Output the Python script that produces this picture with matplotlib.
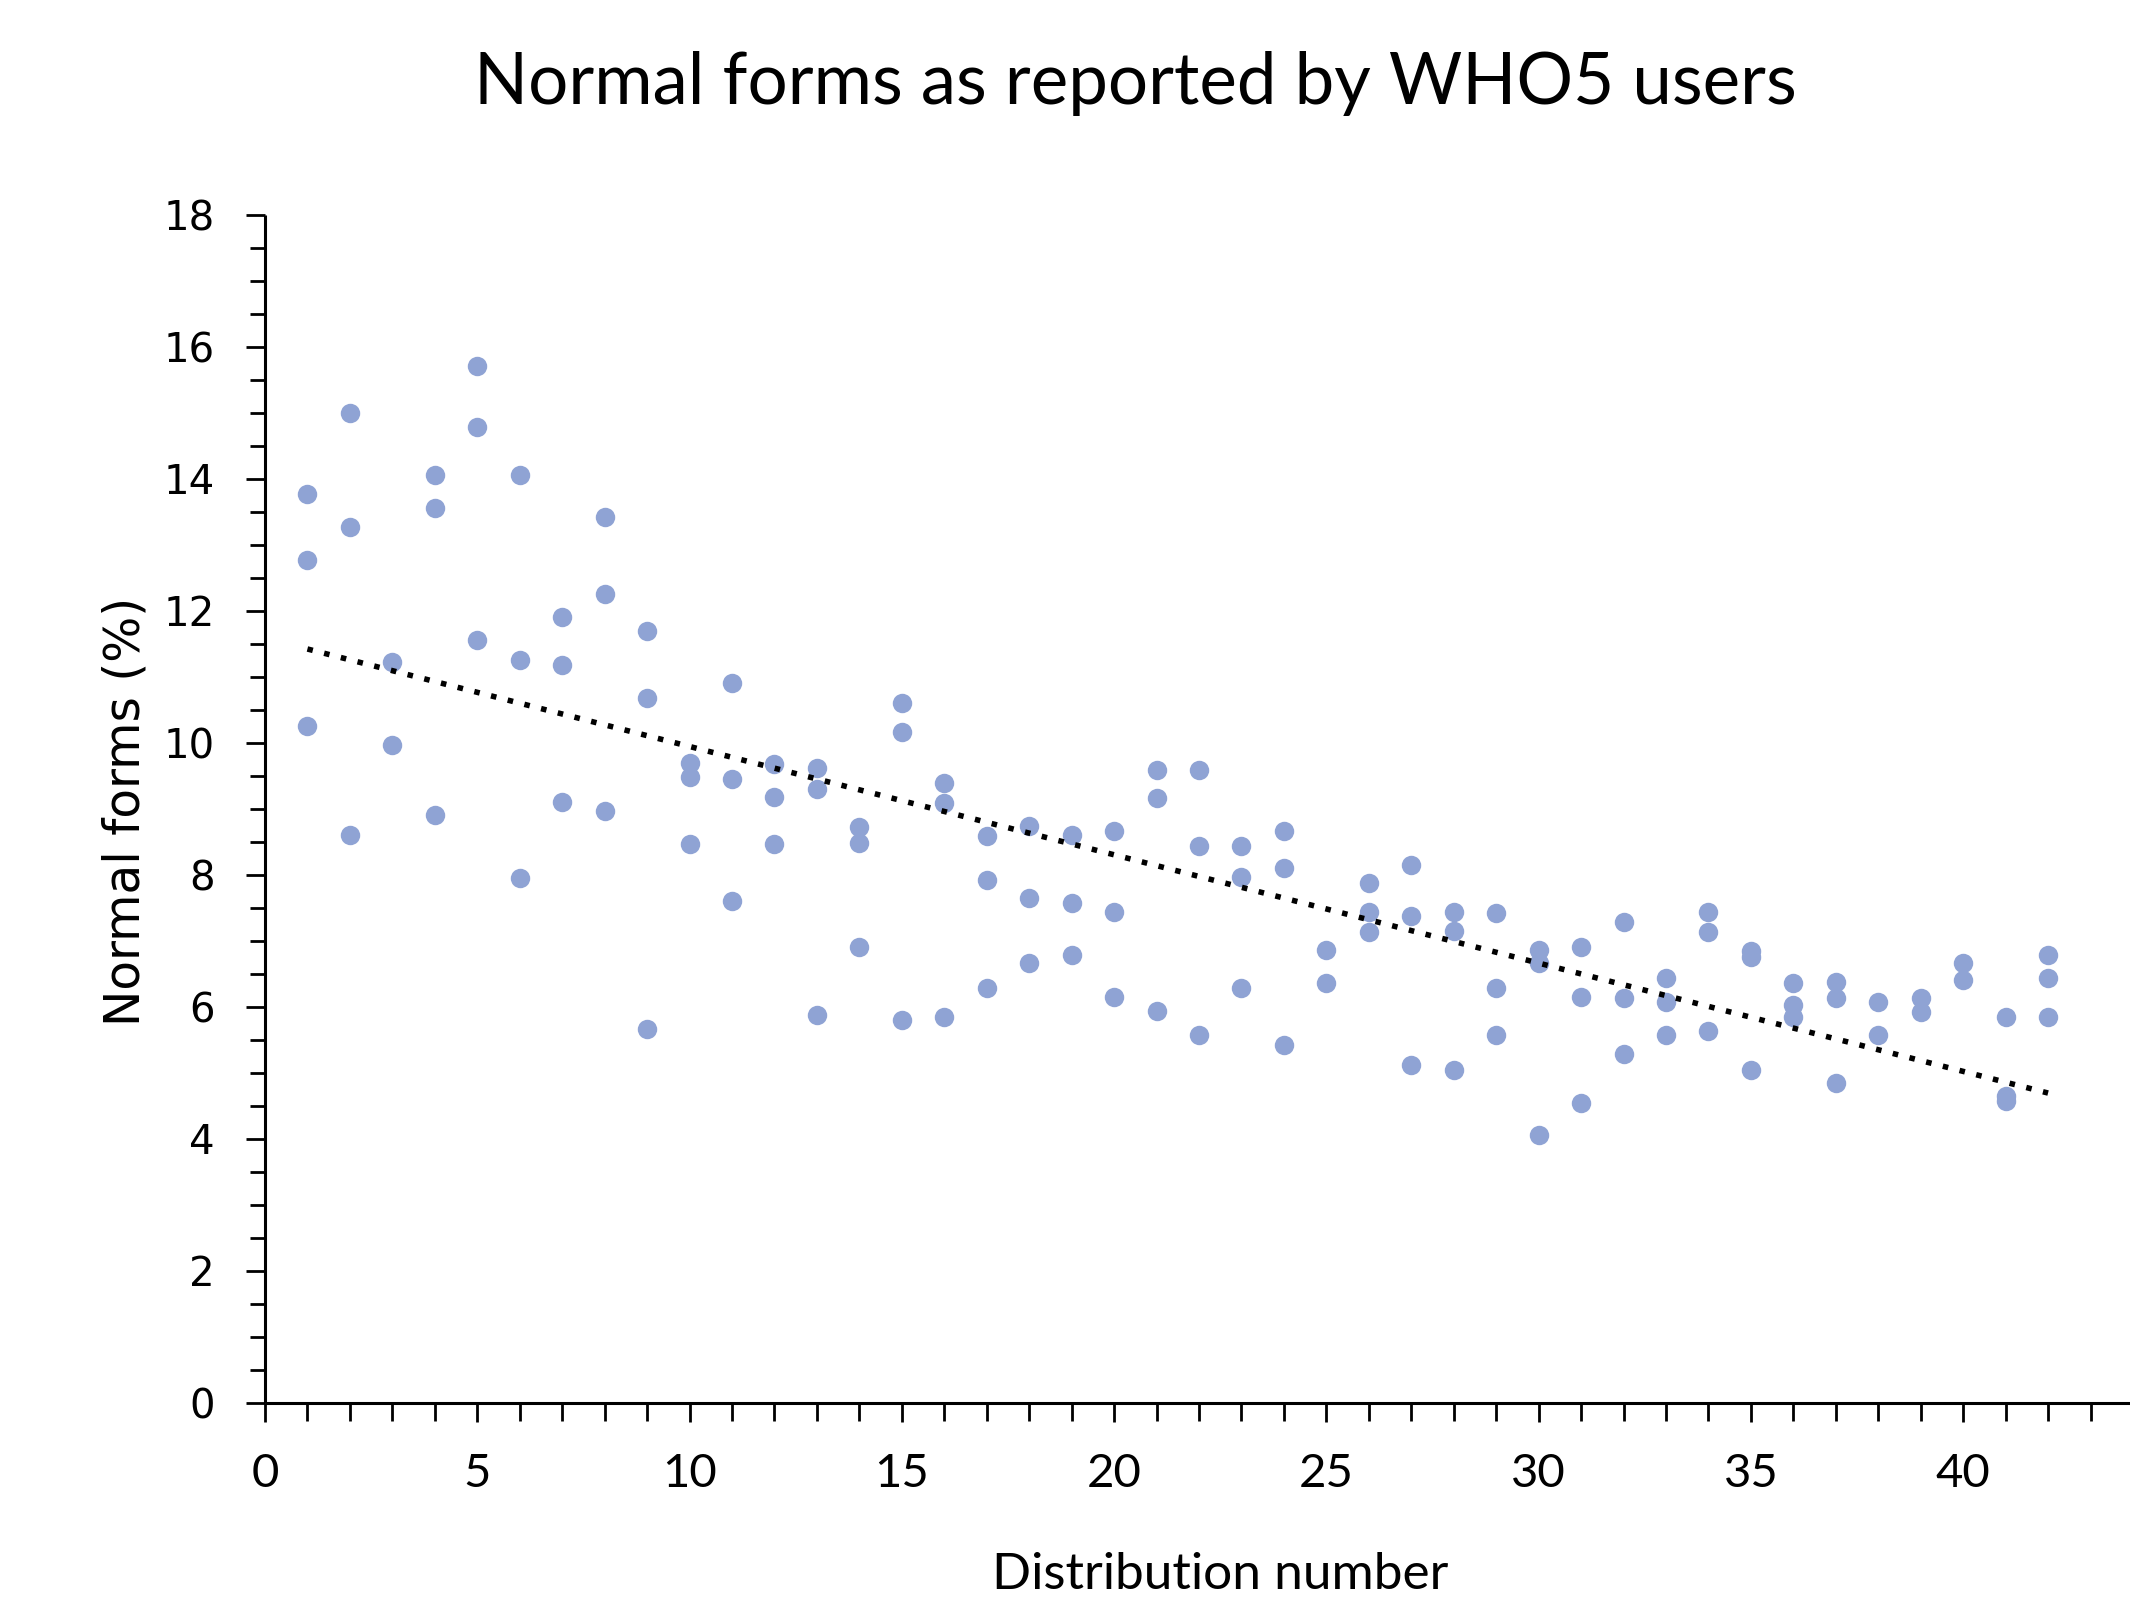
import numpy as np
import matplotlib.pyplot as plt
from matplotlib.ticker import MultipleLocator

# distribution number, three readings per distribution (some have two)
dist = [1, 1, 1, 2, 2, 2, 3, 3, 4, 4, 4, 5, 5, 5, 6, 6, 6, 7, 7, 7, 8, 8, 8,
        9, 9, 9, 10, 10, 10, 11, 11, 11, 12, 12, 12, 13, 13, 13, 14, 14, 14,
        15, 15, 15, 16, 16, 16, 17, 17, 17, 18, 18, 18, 19, 19, 19, 20, 20, 20,
        21, 21, 21, 22, 22, 22, 23, 23, 23, 24, 24, 24, 25, 25, 26, 26, 26,
        27, 27, 27, 28, 28, 28, 29, 29, 29, 30, 30, 30, 31, 31, 31, 32, 32, 32,
        33, 33, 33, 34, 34, 34, 35, 35, 35, 36, 36, 36, 37, 37, 37, 38, 38,
        39, 39, 40, 40, 41, 41, 41, 42, 42, 42]
normal = [13.77, 12.77, 10.25, 15.0, 13.27, 8.6, 11.22, 9.96, 14.05, 13.56, 8.9,
          15.71, 14.78, 11.55, 14.05, 11.26, 7.95, 11.9, 11.18, 9.1, 13.42, 12.26, 8.97,
          11.7, 10.68, 5.66, 9.7, 9.48, 8.46, 10.9, 9.45, 7.6, 9.68, 9.18, 8.46,
          9.62, 9.3, 5.88, 8.72, 8.48, 6.9, 10.6, 10.17, 5.8, 9.39, 9.09, 5.85,
          8.58, 7.92, 6.28, 8.74, 7.65, 6.66, 8.6, 7.58, 6.79, 8.66, 7.44, 6.15,
          9.59, 9.16, 5.93, 9.59, 8.44, 5.58, 8.44, 7.96, 6.28, 8.66, 8.1, 5.42,
          6.86, 6.36, 7.87, 7.44, 7.14, 8.15, 7.37, 5.12, 7.44, 7.15, 5.05,
          7.42, 6.28, 5.58, 6.86, 6.66, 4.06, 6.91, 6.15, 4.55, 7.29, 6.14, 5.29,
          6.43, 6.08, 5.58, 7.44, 7.14, 5.63, 6.84, 6.76, 5.05, 6.36, 6.02, 5.85,
          6.38, 6.14, 4.85, 6.08, 5.58, 6.13, 5.92, 6.67, 6.4, 5.85, 4.65, 4.57,
          6.79, 6.43, 5.85]

x = np.array(dist, dtype=float)
y = np.array(normal)

# linear trendline like excel
k, b = np.polyfit(x, y, 1)
xt = np.array([x.min(), x.max()])
yt = k * xt + b

fig = plt.figure(figsize=(21.3, 16.05), dpi=100)
ax = fig.add_axes([0.1244, 0.1259, 0.8756, 0.7404])

ax.plot(x, y, 'o', color='#8FA3D4', markersize=14, markeredgewidth=0, zorder=2)
ax.plot(xt, yt, color='black', linewidth=4, linestyle=(0, (1, 2.1)), zorder=3)

ax.set_xlim(0, 43.93)
ax.set_ylim(0, 18)
ax.xaxis.set_major_locator(MultipleLocator(5))
ax.xaxis.set_minor_locator(MultipleLocator(1))
ax.yaxis.set_major_locator(MultipleLocator(2))
ax.yaxis.set_minor_locator(MultipleLocator(0.5))

for s in ['top', 'right']:
    ax.spines[s].set_visible(False)
for s in ['left', 'bottom']:
    ax.spines[s].set_linewidth(2.2)
    ax.spines[s].set_capstyle('butt')

ax.tick_params(axis='x', which='major', direction='out', length=14, width=2, pad=22)
ax.tick_params(axis='x', which='minor', direction='out', length=13, width=2)
ax.tick_params(axis='y', which='major', direction='out', length=14, width=2, pad=22)
ax.tick_params(axis='y', which='minor', direction='out', length=11, width=2)

for lab in ax.get_xticklabels():
    lab.set_family(['Liberation Sans Narrow', 'Lato', 'DejaVu Sans'])
    lab.set_fontsize(34)
for lab in ax.get_yticklabels():
    lab.set_family(['DejaVu Sans'])
    lab.set_fontsize(29)

fig.text(0.533, 0.948, 'Normal forms as reported by WHO5 users', ha='center', va='center',
         fontsize=51, family=['Lato', 'DejaVu Sans'])
fig.text(0.573, 0.0187, 'Distribution number', ha='center', va='center',
         fontsize=37, family=['Lato', 'DejaVu Sans'])
fig.text(0.0587, 0.4947, 'Normal forms (%)', ha='center', va='center', rotation=90,
         fontsize=35, family=['DejaVu Sans'])

plt.savefig('out.png', dpi=100)
